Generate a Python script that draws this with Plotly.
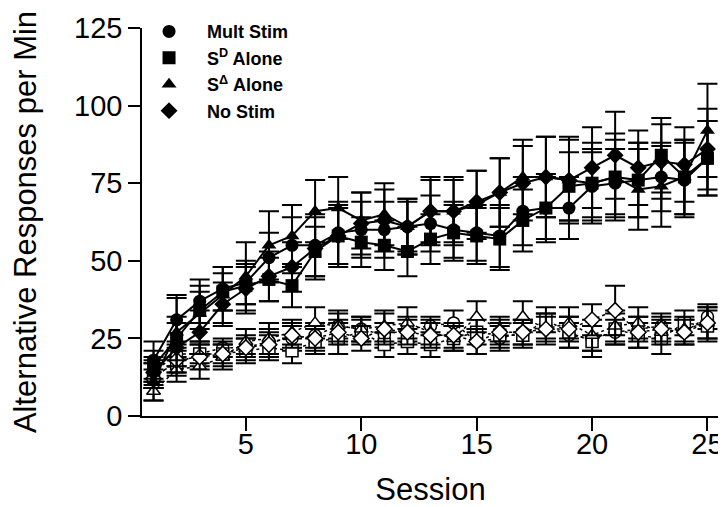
import plotly.graph_objects as go

sessions = list(range(1, 26))

# Filled symbols (solid lines)
mult_stim = [18, 31, 37, 41, 43, 51, 55, 55, 59, 60, 60, 61, 62, 60, 59, 58, 66, 67, 67, 74, 75, 76, 77, 76, 83]
mult_stim_err = [6, 8, 7, 7, 7, 8, 9, 10, 10, 9, 9, 8, 9, 9, 9, 10, 11, 11, 10, 11, 11, 12, 11, 12, 12]
sd_alone = [16, 25, 34, 40, 42, 44, 42, 53, 58, 56, 55, 53, 57, 59, 58, 57, 63, 67, 74, 75, 77, 76, 84, 77, 83]
sd_alone_err = [5, 7, 6, 6, 6, 7, 7, 8, 9, 8, 8, 8, 8, 9, 9, 10, 10, 10, 11, 11, 12, 12, 12, 12, 12]
sdelta_alone = [11, 27, 33, 39, 45, 55, 58, 66, 67, 63, 65, 61, 66, 66, 68, 72, 77, 77, 76, 75, 77, 73, 74, 77, 92]
sdelta_alone_err = [6, 11, 9, 9, 11, 11, 10, 10, 10, 9, 10, 9, 11, 11, 11, 11, 12, 13, 14, 13, 14, 13, 13, 12, 15]
no_stim = [14, 22, 27, 36, 41, 45, 48, 54, 58, 62, 63, 61, 66, 66, 69, 72, 75, 77, 76, 80, 84, 80, 82, 81, 86]
no_stim_err = [5, 8, 7, 7, 8, 8, 8, 10, 10, 10, 10, 9, 10, 10, 10, 11, 12, 13, 13, 13, 14, 12, 12, 12, 13]

# Open symbols (dotted lines)
open_circle = [14, 20, 20, 22, 22, 24, 25, 26, 29, 28, 26, 28, 29, 30, 24, 25, 27, 29, 26, 25, 27, 28, 29, 27, 32]
open_circle_err = [4, 4, 3, 3, 3, 4, 4, 4, 4, 4, 4, 4, 3, 4, 4, 4, 4, 4, 4, 4, 4, 4, 4, 4, 4]
open_square = [13, 17, 20, 20, 21, 22, 21, 24, 25, 27, 23, 24, 23, 25, 27, 26, 26, 31, 27, 24, 28, 26, 25, 30, 29]
open_square_err = [4, 4, 4, 3, 4, 4, 4, 4, 5, 4, 4, 4, 4, 4, 4, 4, 4, 4, 5, 5, 5, 4, 5, 4, 5]
open_triangle = [8, 15, 16, 19, 24, 25, 27, 30, 29, 28, 29, 30, 27, 25, 32, 28, 32, 28, 30, 26, 29, 30, 27, 28, 30]
open_triangle_err = [3, 4, 4, 4, 4, 5, 4, 5, 5, 4, 5, 5, 4, 4, 5, 4, 5, 5, 5, 5, 5, 5, 4, 4, 5]
open_diamond = [12, 18, 19, 20, 22, 23, 26, 25, 27, 25, 28, 27, 26, 26, 24, 27, 27, 28, 28, 31, 34, 27, 28, 27, 30]
open_diamond_err = [3, 4, 4, 4, 4, 4, 4, 4, 4, 4, 5, 4, 4, 4, 4, 4, 4, 4, 4, 5, 8, 5, 4, 4, 5]

legend_names = ["Mult Stim", "S<sup>D</sup> Alone", "S<sup>\u0394</sup> Alone", "No Stim"]
symbols = ["circle", "square", "triangle-up", "diamond"]
x_ticks = [5, 10, 15, 20, 25]
y_ticks = [0, 25, 50, 75, 100, 125]

FONT = "Liberation Sans, Arial, sans-serif"
fig = go.Figure()

open_series = [(open_circle, open_circle_err), (open_square, open_square_err),
               (open_triangle, open_triangle_err), (open_diamond, open_diamond_err)]
filled_series = [(mult_stim, mult_stim_err), (sd_alone, sd_alone_err),
                 (sdelta_alone, sdelta_alone_err), (no_stim, no_stim_err)]

for (vals, err), sym in zip(open_series, symbols):
    fig.add_trace(go.Scatter(
        x=sessions, y=vals, mode="lines+markers", showlegend=False,
        line=dict(color="black", width=1.5, dash="3px,3px"),
        marker=dict(symbol=sym, size=12, color="white", line=dict(color="black", width=1.5)),
        error_y=dict(type="data", array=err, visible=True, color="black", thickness=2, width=10),
    ))

for (vals, err), sym in zip(filled_series, symbols):
    fig.add_trace(go.Scatter(
        x=sessions, y=vals, mode="lines+markers", showlegend=False,
        line=dict(color="black", width=2),
        marker=dict(symbol=sym, size=13, color="black"),
        error_y=dict(type="data", array=err, visible=True, color="black", thickness=2, width=10),
    ))

# legend entries (marker only)
for name, sym in zip(legend_names, symbols):
    fig.add_trace(go.Scatter(
        x=[None], y=[None], mode="markers", name=name,
        marker=dict(symbol=sym, size=13, color="black"),
    ))

# page body has an 8px default margin, so the figure is sized/offset to compensate
fig.update_layout(
    width=718, height=499,
    margin=dict(l=134, r=7, t=20, b=91, autoexpand=False),
    paper_bgcolor="white", plot_bgcolor="white",
    font=dict(family=FONT, color="black"),
    legend=dict(x=-0.019, y=1.038, xanchor="left", yanchor="top",
                itemwidth=66,
                font=dict(size=18, family=FONT, weight="bold"),
                bgcolor="rgba(0,0,0,0)", tracegroupgap=0),
    xaxis=dict(range=[0.5, 25.5], tickvals=x_ticks, showgrid=False, zeroline=False,
               automargin=False,
               showline=True, linecolor="black", linewidth=1.5,
               ticks="outside", ticklen=13, tickwidth=1.5, tickcolor="black",
               tickfont=dict(size=29), ticklabelstandoff=-12,
               title=dict(text="Session", font=dict(size=31), standoff=24)),
    yaxis=dict(range=[0, 125], tickvals=y_ticks, showgrid=False, zeroline=False,
               automargin=False,
               showline=True, linecolor="black", linewidth=1.5,
               ticks="outside", ticklen=12, tickwidth=1.5, tickcolor="black",
               tickfont=dict(size=29),
               title=dict(text="Alternative Responses per Min", font=dict(size=31), standoff=36)),
)

fig.write_html("out.html")
